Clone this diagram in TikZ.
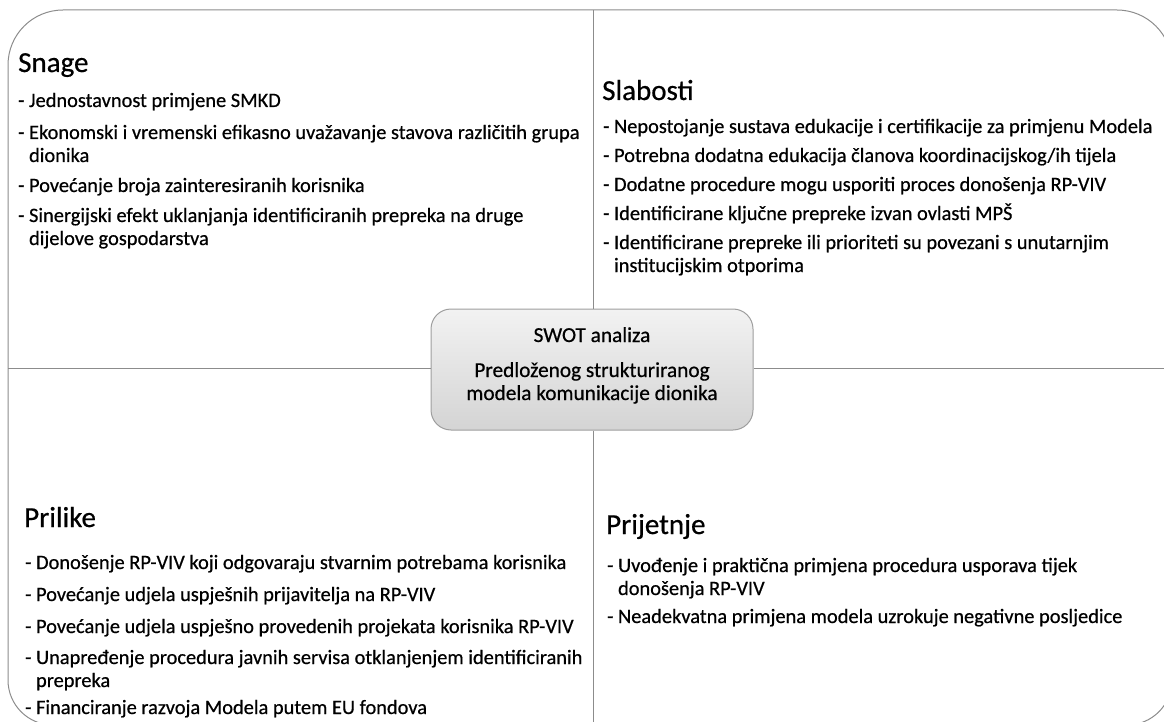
\documentclass[tikz,border=0pt]{standalone}
\usepackage{fontspec}
\setmainfont{Carlito}[FakeBold=0.6]
\definecolor{linegray}{HTML}{8C8C8C}
\definecolor{boxgray}{HTML}{9E9E9E}
\definecolor{boxtop}{HTML}{F2F2F2}
\definecolor{boxbot}{HTML}{D4D4D4}
\begin{document}
\begin{tikzpicture}[x=1pt,y=-1pt,
  frame/.style={draw=linegray, line width=1pt},
  head/.style={anchor=base west, inner sep=0pt, font=\fontsize{29}{33}\selectfont},
  itm/.style={anchor=base west, inner sep=0pt, font=\fontsize{20.4}{24}\selectfont},
  ctr/.style={anchor=base, inner sep=0pt, font=\fontsize{21.3}{25}\selectfont},
  centerbox/.style={draw=boxgray, line width=1pt, rounded corners=20pt,
     top color=boxtop, bottom color=boxbot, minimum width=322pt, minimum height=121pt, inner sep=0pt}]
\useasboundingbox (0,0) rectangle (1164,722);
\begin{scope}
\clip (0,0) rectangle (1164,722);
\draw[frame] (8,65) .. controls (8,34.6) and (32.6,10) .. (63,10)
  -- (1117,10) .. controls (1147.4,10) and (1172,34.6) .. (1172,65)
  -- (1172,680) .. controls (1172,704.9) and (1151.9,725) .. (1127,725)
  -- (53,725) .. controls (28.1,725) and (8,704.9) .. (8,680) -- cycle;
\end{scope}
\coordinate (T) at (593,10);
\coordinate (B) at (593,722);
\coordinate (L) at (8,368);
\coordinate (R) at (1164,368);
\node[centerbox] (swot) at (592,369.5) {};
\draw[frame] (T) -- (T |- swot.north);
\draw[frame] (B |- swot.south) -- (B);
\draw[frame] (L) -- (L -| swot.west);
\draw[frame] (R -| swot.east) -- (R);
\node[ctr] (c1) at (592,342) {SWOT analiza};
\node[ctr] (c2) at (592,377) {Predloženog strukturiranog};
\node[ctr] (c3) at (592,400) {modela komunikacije dionika};
% Snage
\node[head] (sh) at (18,72) {Snage};
\node[itm] (s1) at (18,107) {- Jednostavnost primjene SMKD};
\node[itm] (s2) at (18,139) {- Ekonomski i vremenski efikasno uvažavanje stavova različitih grupa};
\node[itm] (s2b) at (18,162) {\hphantom{- }dionika};
\node[itm] (s3) at (18,192) {- Povećanje broja zainteresiranih korisnika};
\node[itm] (s4) at (18,222) {- Sinergijski efekt uklanjanja identificiranih prepreka na druge};
\node[itm] (s4b) at (18,245) {\hphantom{- }dijelove gospodarstva};
% Slabosti
\node[head] (wh) at (602,100) {Slabosti};
\node[itm] (w1) at (603,133) {- Nepostojanje sustava edukacije i certifikacije za primjenu Modela};
\node[itm] (w2) at (603,162) {- Potrebna dodatna edukacija članova koordinacijskog/ih tijela};
\node[itm] (w3) at (603,191) {- Dodatne procedure mogu usporiti proces donošenja RP-VIV};
\node[itm] (w4) at (603,220) {- Identificirane ključne prepreke izvan ovlasti MPŠ};
\node[itm] (w5) at (603,249) {- Identificirane prepreke ili prioriteti su povezani s unutarnjim};
\node[itm] (w5b) at (603,272) {\hphantom{- }institucijskim otporima};
% Prilike
\node[head] (oh) at (24,527) {Prilike};
\node[itm] (o1) at (25,569) {- Donošenje RP-VIV koji odgovaraju stvarnim potrebama korisnika};
\node[itm] (o2) at (25,601) {- Povećanje udjela uspješnih prijavitelja na RP-VIV};
\node[itm] (o3) at (25,633) {- Povećanje udjela uspješno provedenih projekata korisnika RP-VIV};
\node[itm] (o4) at (25,664) {- Unapređenje procedura javnih servisa otklanjenjem identificiranih};
\node[itm] (o4b) at (25,687) {\hphantom{- }prepreka};
\node[itm] (o5) at (25,714) {- Financiranje razvoja Modela putem EU fondova};
% Prijetnje
\node[head] (th) at (606,534) {Prijetnje};
\node[itm] (t1) at (607,572) {- Uvođenje i praktična primjena procedura usporava tijek};
\node[itm] (t1b) at (607,595) {\hphantom{- }donošenja RP-VIV};
\node[itm] (t2) at (607,623) {- Neadekvatna primjena modela uzrokuje negativne posljedice};
\end{tikzpicture}
\end{document}
